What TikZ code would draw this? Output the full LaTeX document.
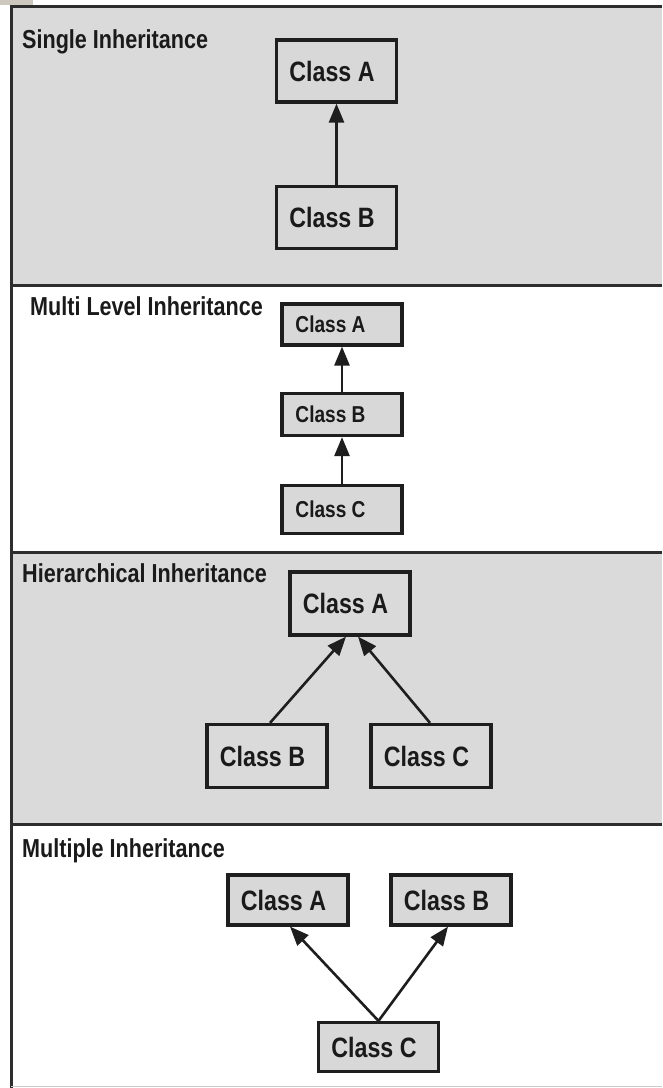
\documentclass[tikz,border=0pt]{standalone}
\usepackage{fontspec}
\setmainfont{Liberation Sans}
\newfontfamily\nf[FakeStretch=0.83]{Liberation Sans}
\usetikzlibrary{arrows.meta,calc}
\definecolor{panelgray}{RGB}{218,218,218}
\definecolor{boxgray}{RGB}{216,216,216}
\definecolor{linec}{RGB}{45,45,45}
\definecolor{boxline}{RGB}{30,30,30}
\definecolor{txt}{RGB}{26,26,26}
\definecolor{tan}{RGB}{205,200,190}
\newcommand\clsname[2][9pt]{Class #2\hspace*{#1}}
\begin{document}
\begin{tikzpicture}[x=1pt,y=-1pt,
  sep/.style={line width=3pt, draw=linec},
  cls/.style={draw=boxline, fill=boxgray, line width=3.2pt, inner sep=0pt, minimum width=120pt, font=\nf\bfseries\fontsize{28}{30}\selectfont, text=txt},
  smallcls/.style={cls, font=\nf\bfseries\fontsize{23}{25}\selectfont},
  title/.style={anchor=base west, inner sep=0pt, font=\nf\bfseries\fontsize{26}{28}\selectfont, text=txt},
  inh/.style={-{Triangle[length=19pt,width=15pt]}, line width=2.6pt, draw=boxline}]
\useasboundingbox (0,0) rectangle (662,1088);
\fill[white] (0,0) rectangle (662,1088);
\fill[tan] (0,0) rectangle (33,5);
% panels
\fill[panelgray] (11,6) rectangle (662,285);
\fill[panelgray] (11,552) rectangle (662,824);
\draw[sep] (11,6.5) -- (662,6.5);
\draw[sep] (11,285) -- (662,285);
\draw[sep] (11,552) -- (662,552);
\draw[sep] (11,824) -- (662,824);
\draw[line width=2.5pt, draw=linec] (11.5,5) -- (11.5,1088);
\draw[line width=1pt, draw=black!20] (11,1086.5) -- (662,1086.5);

% Single inheritance
\node[title] (t1) at (22,48) {Single Inheritance};
\node[cls, minimum height=62pt] (s1a) at (336.5,71) {\clsname{A}};
\node[cls, minimum height=62pt] (s1b) at (336.5,217.5) {\clsname{B}};
\draw[inh] (s1b.north) -- (s1a.south);

% Multi level inheritance
\node[title] (t2) at (30,315) {Multi Level Inheritance};
\node[smallcls, minimum height=41pt] (m2a) at (342,324.5) {\clsname[23pt]{A}};
\node[smallcls, minimum height=42pt] (m2b) at (342,414.5) {\clsname[23pt]{B}};
\node[smallcls, minimum height=48pt] (m2c) at (342,509.5) {\clsname[23pt]{C}};
\draw[inh] (m2b.north) -- (m2a.south);
\draw[inh] (m2c.north) -- (m2b.south);

% Hierarchical inheritance
\node[title] (t3) at (22,582) {Hierarchical Inheritance};
\node[cls, fill=panelgray, minimum height=63pt] (h3a) at (350,603.5) {\clsname{A}};
\node[cls, fill=panelgray, minimum height=63pt] (h3b) at (267,756) {\clsname{B}};
\node[cls, fill=panelgray, minimum height=63pt] (h3c) at (431,756) {\clsname{C}};
\draw[inh] ($(h3b.north)+(3,0)$) -- ($(h3a.south)+(-4,0)$);
\draw[inh] ($(h3c.north)+(-1,0)$) -- ($(h3a.south)+(8,0)$);

% Multiple inheritance
\node[title] (t4) at (22,857) {Multiple Inheritance};
\node[cls, minimum height=50pt] (u4a) at (288,900) {\clsname{A}};
\node[cls, minimum height=50pt] (u4b) at (451,900) {\clsname{B}};
\node[cls, minimum height=49pt] (u4c) at (378.5,1047) {\clsname{C}};
\draw[inh] (u4c.north) -- ($(u4a.south)+(2,0)$);
\draw[inh] (u4c.north) -- ($(u4b.south)+(-3,0)$);
\end{tikzpicture}
\end{document}
